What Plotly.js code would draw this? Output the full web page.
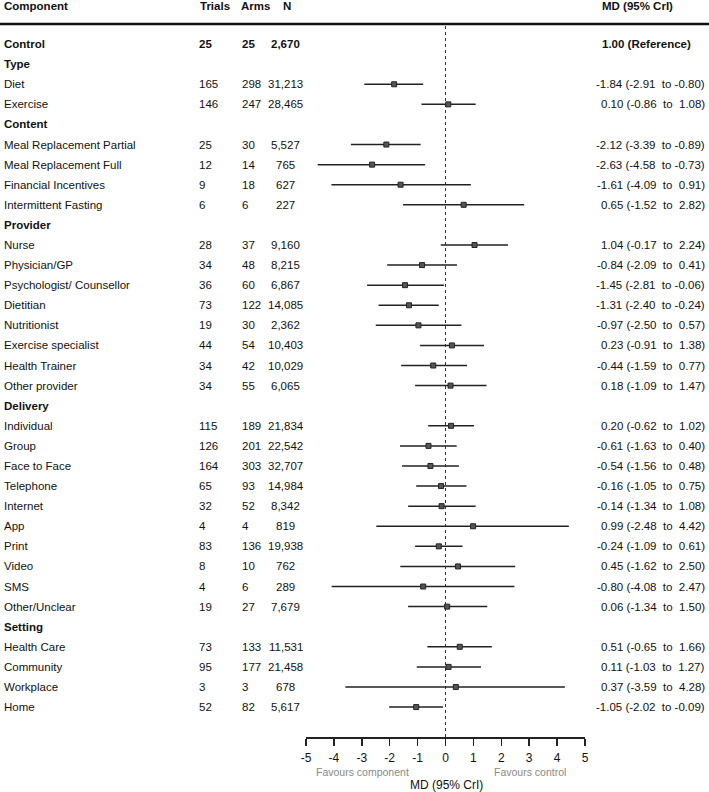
<!DOCTYPE html>
<html>
<head>
<meta charset="utf-8">
<script src="https://cdn.plot.ly/plotly-3.0.1.min.js"></script>
<style>html,body{margin:0;padding:0;background:#fff;}#chart{width:709px;height:792px;}</style>
</head>
<body>
<div id="chart"></div>
<script>
// ---- data ----
const components = ["Control","Type","Diet","Exercise","Content","Meal Replacement Partial","Meal Replacement Full","Financial Incentives","Intermittent Fasting","Provider","Nurse","Physician/GP","Psychologist/ Counsellor","Dietitian","Nutritionist","Exercise specialist","Health Trainer","Other provider","Delivery","Individual","Group","Face to Face","Telephone","Internet","App","Print","Video","SMS","Other/Unclear","Setting","Health Care","Community","Workplace","Home"];
const isSection = [false,true,false,false,true,false,false,false,false,true,false,false,false,false,false,false,false,false,true,false,false,false,false,false,false,false,false,false,false,true,false,false,false,false];
const trials = [25,null,165,146,null,25,12,9,6,null,28,34,36,73,19,44,34,34,null,115,126,164,65,32,4,83,8,4,19,null,73,95,3,52];
const arms = [25,null,298,247,null,30,14,18,6,null,37,48,60,122,30,54,42,55,null,189,201,303,93,52,4,136,10,6,27,null,133,177,3,82];
const participants = ["2,670",null,"31,213","28,465",null,"5,527","765","627","227",null,"9,160","8,215","6,867","14,085","2,362","10,403","10,029","6,065",null,"21,834","22,542","32,707","14,984","8,342","819","19,938","762","289","7,679",null,"11,531","21,458","678","5,617"];
const md = [null,null,-1.84,0.10,null,-2.12,-2.63,-1.61,0.65,null,1.04,-0.84,-1.45,-1.31,-0.97,0.23,-0.44,0.18,null,0.20,-0.61,-0.54,-0.16,-0.14,0.99,-0.24,0.45,-0.80,0.06,null,0.51,0.11,0.37,-1.05];
const lower = [null,null,-2.91,-0.86,null,-3.39,-4.58,-4.09,-1.52,null,-0.17,-2.09,-2.81,-2.40,-2.50,-0.91,-1.59,-1.09,null,-0.62,-1.63,-1.56,-1.05,-1.34,-2.48,-1.09,-1.62,-4.08,-1.34,null,-0.65,-1.03,-3.59,-2.02];
const upper = [null,null,-0.80,1.08,null,-0.89,-0.73,0.91,2.82,null,2.24,0.41,-0.06,-0.24,0.57,1.38,0.77,1.47,null,1.02,0.40,0.48,0.75,1.08,4.42,0.61,2.50,2.47,1.50,null,1.66,1.27,4.28,-0.09];
const headers = ["Component","Trials","Arms","N","MD (95% CrI)"];
const xTicks = [-5,-4,-3,-2,-1,0,1,2,3,4,5];
const xTitle = "MD (95% CrI)";
const referenceText = "1.00 (Reference)";

// ---- layout geometry ----
const W = 709, H = 792;
const L = 306, R = 124, T = 24, B = 55;
const PW = W - L - R, PH = H - T - B;
const px = v => (v - L) / PW;           // pixel x -> paper x
const py = v => 1 - (v - T) / PH;       // pixel y -> paper y
const FONT = "Liberation Sans, Arial, Helvetica, sans-serif";
const FS = 11.5;
const NB = "\u00a0";

const rows = components.map((_, i) => i);
const fmt = v => v.toFixed(2);
function mdText(i) {
  const hi = upper[i];
  return fmt(md[i]) + " (" + fmt(lower[i]) + NB + NB + "to " + (hi < 0 ? "" : NB) + fmt(hi) + ")";
}

const ann = [];
const base = {yref: "y", xref: "paper", showarrow: false, yanchor: "middle", font: {family: FONT, size: FS, color: "#111"}};
rows.forEach(i => {
  const bold = isSection[i] || i === 0;
  const w = s => bold ? "<b>" + s + "</b>" : s;
  ann.push(Object.assign({}, base, {x: px(2), y: i, xanchor: "left", text: w(components[i])}));
  if (trials[i] !== null) ann.push(Object.assign({}, base, {x: px(197), y: i, xanchor: "left", text: w(String(trials[i]))}));
  if (arms[i] !== null) ann.push(Object.assign({}, base, {x: px(239.5), y: i, xanchor: "left", text: w(String(arms[i]))}));
  if (participants[i] !== null) ann.push(Object.assign({}, base, {x: px(285.5), y: i, xanchor: "center", text: w(participants[i])}));
  if (i === 0) ann.push(Object.assign({}, base, {x: px(600), y: i, xanchor: "left", text: w(referenceText)}));
  else if (md[i] !== null) ann.push(Object.assign({}, base, {x: px(707), y: i, xanchor: "right", text: mdText(i)}));
});
// header
const hb = {xref: "paper", yref: "paper", showarrow: false, yanchor: "middle", y: py(5.5), font: {family: FONT, size: FS, color: "#111"}};
ann.push(Object.assign({}, hb, {x: px(2), xanchor: "left", text: "<b>" + headers[0] + "</b>"}));
ann.push(Object.assign({}, hb, {x: px(198), xanchor: "left", text: "<b>" + headers[1] + "</b>"}));
ann.push(Object.assign({}, hb, {x: px(239), xanchor: "left", text: "<b>" + headers[2] + "</b>"}));
ann.push(Object.assign({}, hb, {x: px(286.5), xanchor: "center", text: "<b>" + headers[3] + "</b>"}));
ann.push(Object.assign({}, hb, {x: px(600), xanchor: "left", text: "<b>" + headers[4] + "</b>"}));
// favours
ann.push({xref: "paper", yref: "paper", x: px(362), y: py(772), showarrow: false, xanchor: "center", yanchor: "middle", text: "Favours component", font: {family: FONT, size: 10.5, color: "#888"}});
ann.push({xref: "paper", yref: "paper", x: px(530), y: py(772), showarrow: false, xanchor: "center", yanchor: "middle", text: "Favours control", font: {family: FONT, size: 10.5, color: "#888"}});
// x axis title
ann.push({xref: "paper", yref: "paper", x: px(446.5), y: py(785), showarrow: false, xanchor: "center", yanchor: "middle", text: xTitle, font: {family: FONT, size: 12, color: "#111"}});

const trace = {
  type: "scatter", mode: "markers",
  x: md, y: rows,
  marker: {symbol: "square", size: 5, color: "#555", line: {width: 1, color: "#222"}},
  error_x: {
    type: "data", symmetric: false,
    array: md.map((v, i) => v === null ? null : upper[i] - v),
    arrayminus: md.map((v, i) => v === null ? null : v - lower[i]),
    width: 0, thickness: 1.5, color: "#222"
  },
  hoverinfo: "skip", showlegend: false, cliponaxis: false
};

const layout = {
  width: W, height: H,
  margin: {l: L, r: R, t: T, b: B, pad: 0},
  paper_bgcolor: "#fff", plot_bgcolor: "#fff",
  showlegend: false,
  font: {family: FONT, size: 12, color: "#111"},
  xaxis: {
    range: [-5, 5], tickvals: xTicks, ticktext: xTicks.map(String), showgrid: false, zeroline: false,
    showline: true, linecolor: "#222", linewidth: 1.5,
    ticks: "outside", ticklen: 7, tickwidth: 1.5, tickcolor: "#222",
    tickfont: {family: FONT, size: 12, color: "#111"}, ticklabelstandoff: 2,
    automargin: false, fixedrange: true
  },
  yaxis: {range: [34.49, -1], visible: false, fixedrange: true, automargin: false},
  shapes: [
    {type: "line", xref: "paper", yref: "paper", x0: px(0), x1: px(W), y0: 1, y1: 1, line: {color: "#111", width: 2.5}},
    {type: "line", xref: "x", yref: "paper", x0: 0, x1: 0, y0: 0, y1: py(25), line: {color: "#333", width: 1, dash: "dot"}, layer: "below"}
  ],
  annotations: ann
};

Plotly.newPlot("chart", [trace], layout, {staticPlot: true, displayModeBar: false});
</script>
</body>
</html>
